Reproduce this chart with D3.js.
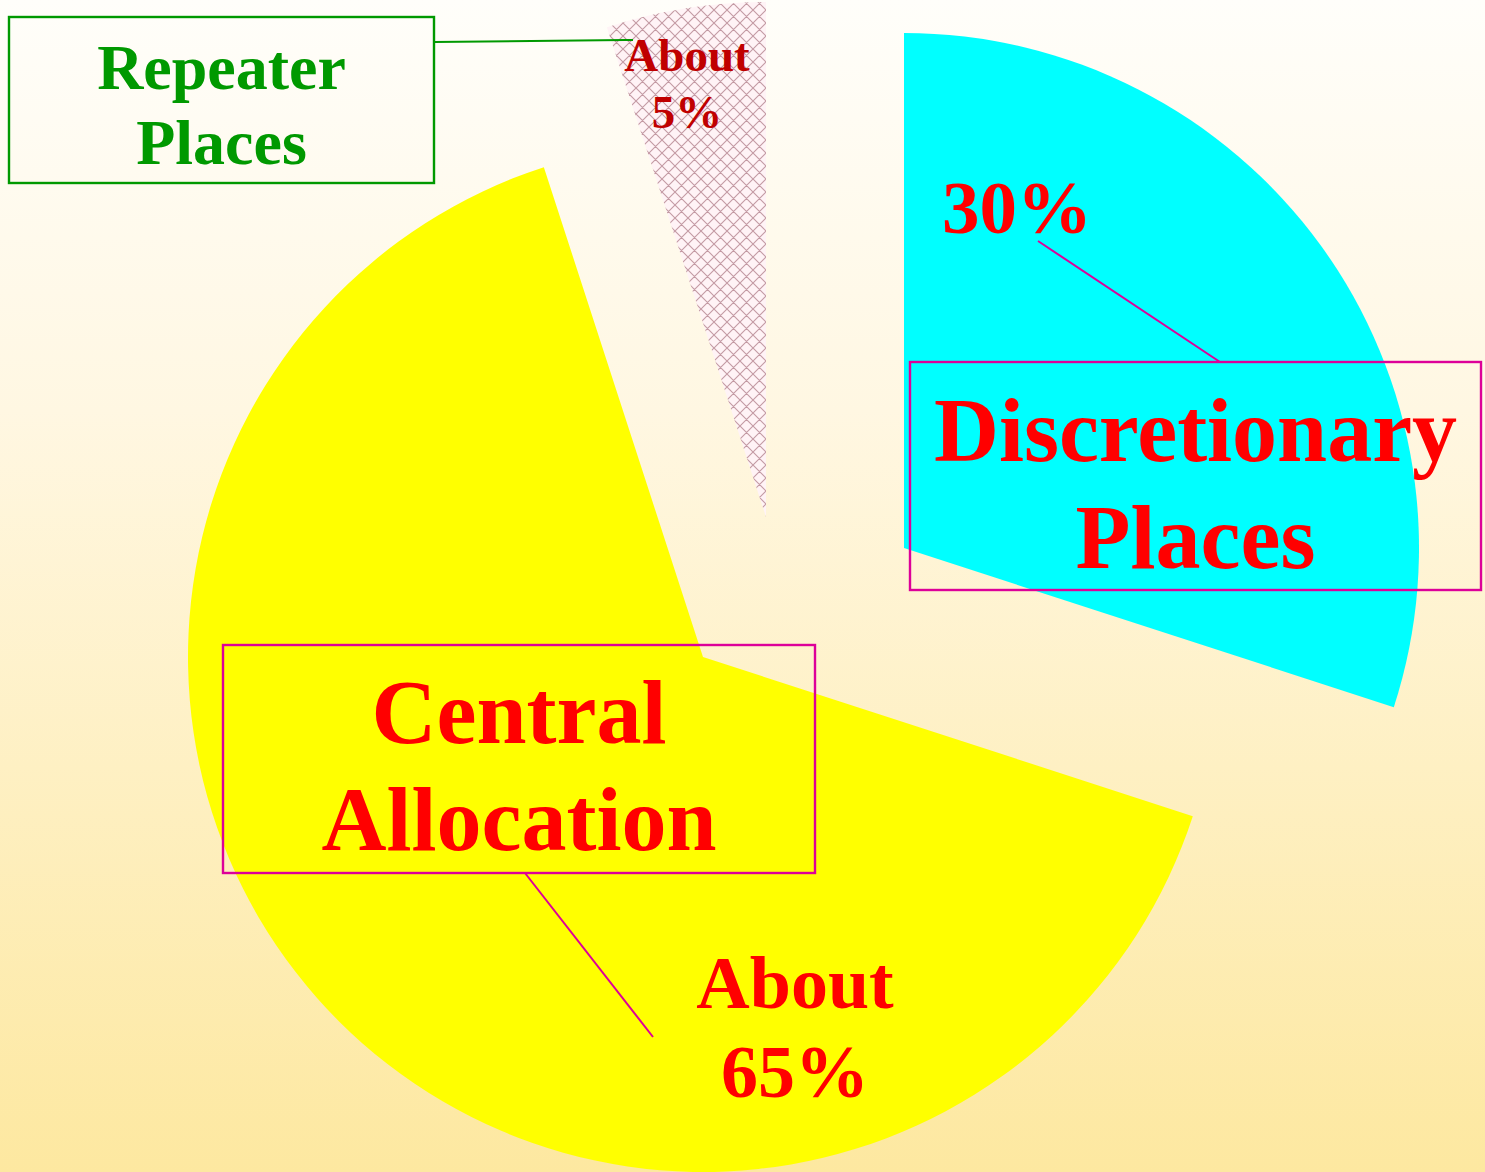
<!DOCTYPE html>
<html>
<head>
<meta charset="utf-8">
<script src="https://cdn.jsdelivr.net/npm/d3@7"></script>
<style>
  html, body { margin: 0; padding: 0; }
  svg { display: block; }
</style>
</head>
<body>
<script>
// ---- data ----
const categories = ["Discretionary Places", "Central Allocation", "Repeater Places"];
const shares = [30, 65, 5];
const shareLabels = [["30%"], ["About", "65%"], ["About", "5%"]];
const nameLines = [["Discretionary", "Places"], ["Central", "Allocation"], ["Repeater", "Places"]];

// ---- layout / style ----
const W = 1485, H = 1172;
const R = 515;
const baseCenter = [703, 657];
// per-slice explode shifts (layout, px)
const explodeShift = { "Discretionary Places": [201, -109], "Central Allocation": [0, 0], "Repeater Places": [63, -140] };
const fills = { "Discretionary Places": "#00ffff", "Central Allocation": "#ffff00", "Repeater Places": "url(#hatch)" };

const svg = d3.select("body").append("svg").attr("width", W).attr("height", H);
const defs = svg.append("defs");
const grad = defs.append("linearGradient").attr("id", "bg").attr("x1", 0).attr("y1", 0).attr("x2", 0).attr("y2", 1);
grad.append("stop").attr("offset", "0%").attr("stop-color", "#fffefa");
grad.append("stop").attr("offset", "35%").attr("stop-color", "#fff7e2");
grad.append("stop").attr("offset", "100%").attr("stop-color", "#fde8a0");

const T = 13;
const pat = defs.append("pattern").attr("id", "hatch").attr("patternUnits", "userSpaceOnUse")
  .attr("width", T).attr("height", T);
pat.append("rect").attr("width", T).attr("height", T).attr("fill", "#fff3f6");
pat.append("path").attr("d", `M0,0L${T},${T}M${T},0L0,${T}M-2,${T-2}L2,${T+2}M${T-2},-2L${T+2},2M-2,2L2,-2M${T-2},${T+2}L${T+2},${T-2}`)
  .attr("stroke", "#c49aa4").attr("stroke-width", 1.1).attr("fill", "none");

svg.append("rect").attr("width", W).attr("height", H).attr("fill", "url(#bg)");

const pie = d3.pie().sort(null).value(d => d.v).startAngle(0).endAngle(2 * Math.PI);
const arcs = pie(categories.map((c, i) => ({ c, v: shares[i] })));
const arc = d3.arc().innerRadius(0).outerRadius(R);

svg.append("g").selectAll("path").data(arcs).join("path")
  .attr("transform", d => {
    const s = explodeShift[d.data.c];
    return `translate(${baseCenter[0] + s[0]},${baseCenter[1] + s[1]})`;
  })
  .attr("d", arc)
  .attr("fill", d => fills[d.data.c]);

const font = "'Liberation Serif', 'Times New Roman', serif";

// label boxes
const boxes = [
  { i: 0, x: 910, y: 362, w: 571, h: 228, stroke: "#dd0099", color: "#ff0000", size: 90, lines: [461, 568] },
  { i: 1, x: 223, y: 645, w: 592, h: 228, stroke: "#dd0099", color: "#ff0000", size: 90, lines: [743, 850] },
  { i: 2, x: 9, y: 17, w: 425, h: 166, stroke: "#009900", color: "#009900", size: 64, lines: [89, 164] }
];
const lg = svg.append("g");
boxes.forEach(b => {
  lg.append("rect").attr("x", b.x).attr("y", b.y).attr("width", b.w).attr("height", b.h)
    .attr("fill", "none").attr("stroke", b.stroke).attr("stroke-width", 2.4);
  nameLines[b.i].forEach((t, k) => {
    lg.append("text").attr("x", b.x + b.w / 2).attr("y", b.lines[k])
      .attr("text-anchor", "middle").attr("font-family", font).attr("font-weight", "bold")
      .attr("font-size", b.size).attr("fill", b.color).text(t);
  });
});

// connector lines
const connectors = [
  { p: [[1038, 241], [1220, 362]], c: "#dd0099", w: 2 },
  { p: [[525, 873], [653, 1037]], c: "#dd0099", w: 2 },
  { p: [[434, 42], [625, 40], [633, 40]], c: "#009900", w: 2 }
];
connectors.forEach(l => {
  lg.append("path").attr("d", d3.line()(l.p)).attr("fill", "none").attr("stroke", l.c).attr("stroke-width", l.w);
});

// value labels
const valuePos = [
  { x: 1017, ys: [233], size: 75, color: "#ff0000" },
  { x: 795, ys: [1008, 1097], size: 74, color: "#ff0000" },
  { x: 687, ys: [71, 128], size: 47, color: "#c00000" }
];
valuePos.forEach((v, i) => {
  shareLabels[i].forEach((t, k) => {
    lg.append("text").attr("x", v.x).attr("y", v.ys[k]).attr("text-anchor", "middle")
      .attr("font-family", font).attr("font-weight", "bold").attr("font-size", v.size)
      .attr("fill", v.color).text(t);
  });
});
</script>
</body>
</html>
